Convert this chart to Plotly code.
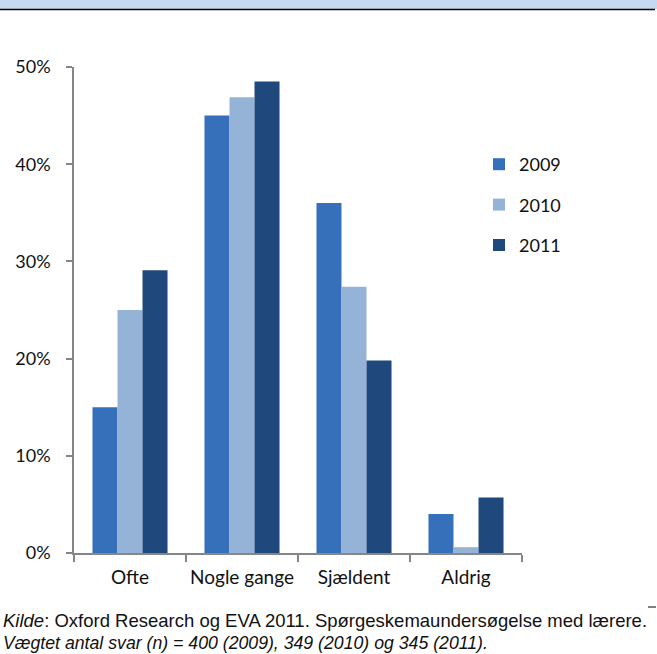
import plotly.graph_objects as go

categories = ["Ofte", "Nogle gange", "Sjældent", "Aldrig"]
years = ["2009", "2010", "2011"]
values_2009 = [0.150, 0.450, 0.360, 0.040]
values_2010 = [0.250, 0.469, 0.274, 0.006]
values_2011 = [0.291, 0.485, 0.198, 0.057]
colors = ["#3670BA", "#95B3D7", "#1F497D"]

W, H = 657, 654
L, R, T, B = 74, 135, 67, 101
pw, ph = W - L - R, H - T - B

def px_x(x):
    return (x - L) / pw

def px_y(y):
    return (H - B - y) / ph

fig = go.Figure()
for i, (yr, vals) in enumerate(zip(years, [values_2009, values_2010, values_2011])):
    fig.add_trace(go.Bar(x=categories, y=vals, name=yr, marker_color=colors[i],
                         marker_line_width=0, legendgroup=yr))

axis_col = "#868686"
txt = "#111111"
fig.update_layout(
    width=W, height=H,
    margin=dict(l=L, r=R, t=T, b=B),
    paper_bgcolor="white", plot_bgcolor="white",
    barmode="group", bargap=0.33, bargroupgap=0,
    font=dict(family="Lato, Noto Sans, sans-serif", size=18, color=txt),
    showlegend=True,
    legend=dict(x=px_x(479), y=px_y(146), xanchor="left", yanchor="top",
                traceorder="grouped", tracegroupgap=14,
                font=dict(size=18, color=txt), itemwidth=30),
    xaxis=dict(showline=True, linecolor=axis_col, linewidth=1.5,
               ticks="outside", tickson="boundaries", ticklen=7, tickcolor=axis_col,
               tickwidth=1.5, showgrid=False, tickangle=0, automargin=False,
               ticklabelstandoff=6,
               tickfont=dict(size=19, color=txt)),
    yaxis=dict(range=[0, 0.5], dtick=0.1, tickformat=".0%", showline=True,
               linecolor=axis_col, linewidth=1.5, ticks="outside", ticklen=6,
               tickcolor=axis_col, tickwidth=1.5, showgrid=False, zeroline=False,
               ticklabelstandoff=12, automargin=False,
               tickfont=dict(size=18, color=txt)),
    shapes=[
        dict(type="rect", xref="paper", yref="paper", x0=px_x(0), x1=px_x(657),
             y0=px_y(0), y1=px_y(9), fillcolor="#C6D9F1", line_width=0, layer="below"),
        dict(type="line", xref="paper", yref="paper", x0=px_x(0), x1=px_x(655),
             y0=px_y(9.5), y1=px_y(9.5), line=dict(color="black", width=1.5)),
        dict(type="line", xref="paper", yref="paper", x0=px_x(648), x1=px_x(656),
             y0=px_y(607), y1=px_y(607), line=dict(color="black", width=1)),
    ],
    annotations=[
        dict(text="<i>Kilde</i>: Oxford Research og EVA 2011. Spørgeskemaundersøgelse med lærere.",
             xref="paper", yref="paper", x=px_x(1), y=px_y(620), xanchor="left", yanchor="middle",
             showarrow=False, font=dict(family="Liberation Sans, Arial, sans-serif", size=18.5, color=txt)),
        dict(text="<i>Vægtet antal svar (n) = 400 (2009), 349 (2010) og 345 (2011).</i>",
             xref="paper", yref="paper", x=px_x(1), y=px_y(643), xanchor="left", yanchor="middle",
             showarrow=False, font=dict(family="Liberation Sans, Arial, sans-serif", size=17.7, color=txt)),
    ],
)

fig.write_html("out.html")
